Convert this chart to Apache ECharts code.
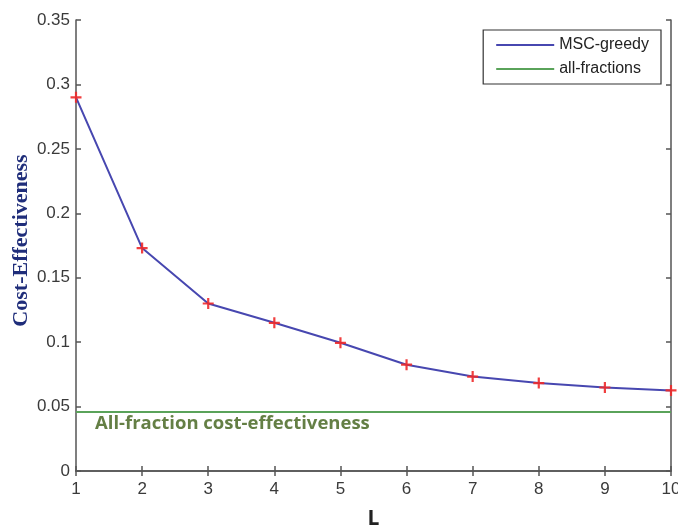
<!DOCTYPE html>
<html>
<head>
<meta charset="utf-8">
<script src="https://cdn.jsdelivr.net/npm/echarts@6/dist/echarts.min.js"></script>
<style>
  html, body { margin: 0; padding: 0; background: #fff; }
  #chart { width: 678px; height: 530px; }
</style>
</head>
<body>
<div id="chart"></div>
<script>
// Cost-effectiveness of MSC-greedy as L grows, against the all-fractions baseline
const lValues = [1, 2, 3, 4, 5, 6, 7, 8, 9, 10];
const mscGreedy = [0.290, 0.173, 0.130, 0.115, 0.0995, 0.0825, 0.0733, 0.0682, 0.0648, 0.0625];
const allFractions = 0.0457;
const xTicks = [1, 2, 3, 4, 5, 6, 7, 8, 9, 10];
const yTicks = [0, 0.05, 0.1, 0.15, 0.2, 0.25, 0.3, 0.35];
const baselineNote = 'All-fraction cost-effectiveness';

const plusSymbol = 'path://M4,0 L6,0 L6,4 L10,4 L10,6 L6,6 L6,10 L4,10 L4,6 L0,6 L0,4 L4,4 Z';

const axisLineStyle = { color: '#555', width: 1.5 };
const tickLabelStyle = { color: '#3a3a3a', fontSize: 17, fontFamily: 'Liberation Sans, Arial, sans-serif' };

const chart = echarts.init(document.getElementById('chart'), null, { renderer: 'canvas' });
chart.setOption({
  animation: false,
  backgroundColor: '#fff',
  grid: { left: 76, right: 7, top: 20, bottom: 59, containLabel: false, outerBoundsMode: 'none' },
  xAxis: [
    {
      type: 'value', min: xTicks[0], max: xTicks[xTicks.length - 1], interval: 1,
      position: 'bottom',
      name: 'L', nameLocation: 'middle', nameGap: 38,
      nameTextStyle: { fontSize: 21, fontWeight: 'bold', color: '#222', fontFamily: 'Open Sans, sans-serif' },
      axisLine: { lineStyle: axisLineStyle },
      axisTick: { inside: true, length: 5, lineStyle: axisLineStyle },
      axisLabel: Object.assign({ margin: 10 }, tickLabelStyle),
      splitLine: { show: false }
    },
    {
      type: 'value', min: xTicks[0], max: xTicks[xTicks.length - 1], interval: 1,
      position: 'top',
      axisLine: { lineStyle: axisLineStyle },
      axisTick: { inside: true, length: 5, lineStyle: axisLineStyle },
      axisLabel: { show: false },
      splitLine: { show: false }
    }
  ],
  yAxis: [
    {
      type: 'value', min: yTicks[0], max: yTicks[yTicks.length - 1], interval: 0.05,
      position: 'left',
      name: 'Cost-Effectiveness', nameLocation: 'middle', nameGap: 44, nameRotate: 90,
      nameMoveOverlap: false,
      nameTextStyle: { fontSize: 22, fontWeight: 'bold', color: '#1f2d7a', fontFamily: 'Liberation Serif, Times New Roman, serif', padding: [0, 0, 0, 10] },
      axisLine: { lineStyle: axisLineStyle },
      axisTick: { inside: true, length: 5, lineStyle: axisLineStyle },
      axisLabel: Object.assign({ margin: 6, formatter: v => String(+v.toFixed(2)) }, tickLabelStyle),
      splitLine: { show: false }
    },
    {
      type: 'value', min: yTicks[0], max: yTicks[yTicks.length - 1], interval: 0.05,
      position: 'right',
      axisLine: { lineStyle: axisLineStyle },
      axisTick: { inside: true, length: 5, lineStyle: axisLineStyle },
      axisLabel: { show: false },
      splitLine: { show: false }
    }
  ],
  legend: {
    right: 17, top: 30,
    orient: 'vertical',
    backgroundColor: '#fff',
    borderColor: '#333', borderWidth: 1.2, borderRadius: 0,
    padding: [7, 12, 7, 13],
    itemGap: 8,
    itemWidth: 58, itemHeight: 2,
    textStyle: { fontSize: 16, color: '#222', fontFamily: 'Liberation Sans, Arial, sans-serif' },
    data: [
      { name: 'MSC-greedy', icon: 'rect' },
      { name: 'all-fractions', icon: 'rect' }
    ]
  },
  series: [
    {
      name: 'MSC-greedy',
      type: 'line',
      xAxisIndex: 0, yAxisIndex: 0,
      data: lValues.map((l, i) => [l, mscGreedy[i]]),
      lineStyle: { color: '#4747b0', width: 2 },
      itemStyle: { color: '#4747b0' },
      symbol: 'none',
      z: 3
    },
    {
      name: 'MSC-greedy markers',
      type: 'scatter',
      xAxisIndex: 0, yAxisIndex: 0,
      data: lValues.map((l, i) => [l, mscGreedy[i]]),
      symbol: plusSymbol,
      symbolSize: 11,
      itemStyle: { color: '#ee2a2a', opacity: 0.9 },
      z: 4
    },
    {
      name: 'all-fractions',
      type: 'line',
      xAxisIndex: 0, yAxisIndex: 0,
      data: [[xTicks[0], allFractions], [xTicks[xTicks.length - 1], allFractions]],
      lineStyle: { color: '#5aa35a', width: 2 },
      itemStyle: { color: '#5aa35a' },
      symbol: 'none',
      z: 2
    },
    {
      name: 'baseline note',
      type: 'scatter',
      xAxisIndex: 0, yAxisIndex: 0,
      data: [[xTicks[0], allFractions]],
      symbolSize: 0,
      silent: true,
      label: {
        show: true,
        formatter: baselineNote,
        position: 'right',
        distance: 0,
        offset: [19, 12],
        fontSize: 18.5, fontWeight: 'bold',
        color: '#3d5f17',
        fontFamily: 'Open Sans, sans-serif'
      },
      z: 5
    }
  ]
});
</script>
</body>
</html>
